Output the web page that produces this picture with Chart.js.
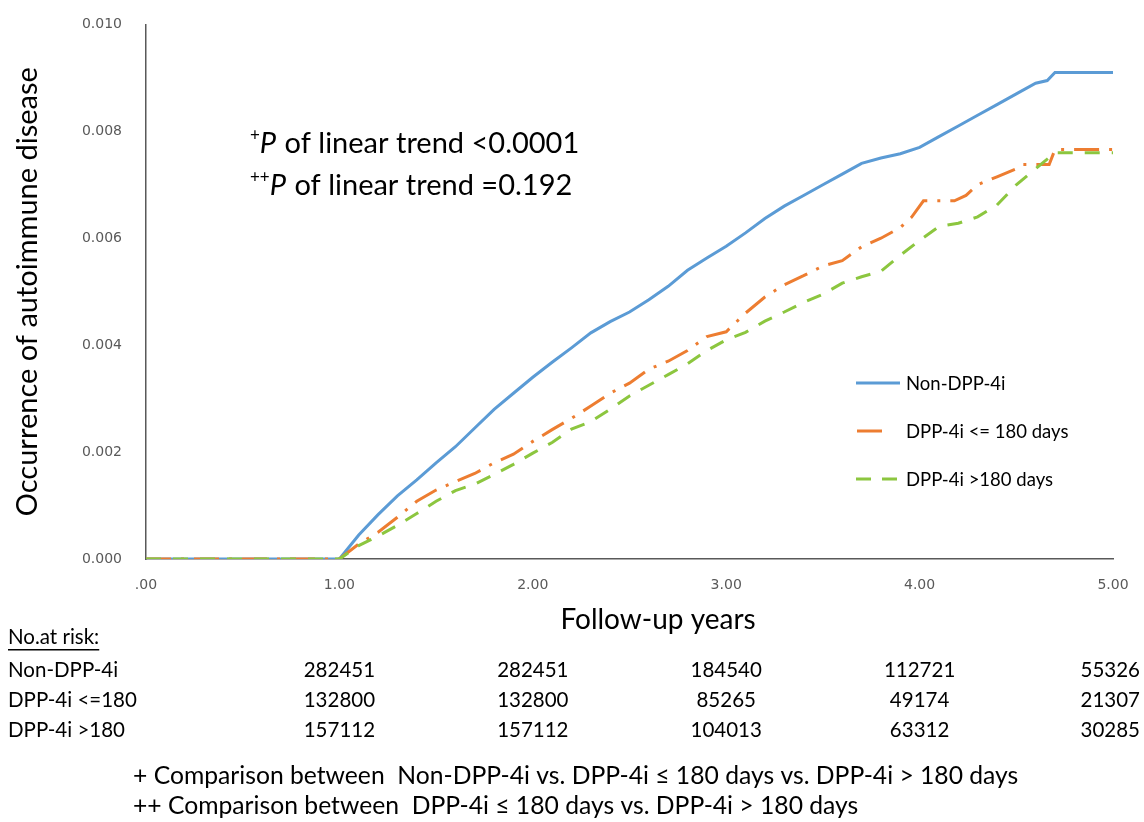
<!DOCTYPE html>
<html>
<head>
<meta charset="utf-8">
<script src="https://cdn.jsdelivr.net/npm/chart.js@4.4.1/dist/chart.umd.min.js"></script>
<style>
  html, body { margin: 0; padding: 0; background: #fff; }
  #chart { display: block; }
</style>
</head>
<body>
<canvas id="chart" width="1144" height="822"></canvas>
<script>
const TEXT_FONT = 'Lato, "Open Sans", sans-serif';
const TICK_FONT = '"DejaVu Sans", Verdana, sans-serif';

// Non-DPP-4i (blue)
const nonYears = [0, 1.0, 1.1, 1.2, 1.3, 1.4, 1.5, 1.6, 1.7, 1.8, 1.9, 2.0, 2.1, 2.2, 2.3, 2.4, 2.5, 2.6, 2.7, 2.8, 2.9,
  3.0, 3.1, 3.2, 3.3, 3.4, 3.5, 3.6, 3.7, 3.8, 3.9, 4.0, 4.1, 4.2, 4.3, 4.4, 4.5, 4.6, 4.66, 4.7, 5.0];
const nonRate = [0, 0, 0.00045, 0.00083, 0.00118, 0.00148, 0.0018, 0.0021, 0.00245, 0.0028, 0.0031, 0.0034, 0.00368, 0.00395, 0.00423, 0.00444, 0.00462, 0.00485, 0.0051, 0.0054, 0.00563,
  0.00585, 0.0061, 0.00637, 0.0066, 0.0068, 0.007, 0.0072, 0.0074, 0.0075, 0.00758, 0.0077, 0.0079, 0.0081, 0.0083, 0.0085, 0.0087, 0.0089, 0.00895, 0.0091, 0.0091];

// DPP-4i <= 180 days (orange)
const leYears = [0, 1.0, 1.1, 1.2, 1.3, 1.4, 1.5, 1.6, 1.7, 1.8, 1.9, 2.0, 2.1, 2.2, 2.3, 2.4, 2.5, 2.6, 2.7, 2.8, 2.9,
  3.0, 3.1, 3.2, 3.3, 3.4, 3.5, 3.6, 3.7, 3.8, 3.9, 3.96, 4.02, 4.18, 4.24, 4.3, 4.4, 4.5, 4.53, 4.67, 4.7, 5.0];
const leRate = [0, 0, 0.00028, 0.0005, 0.00078, 0.00108, 0.00129, 0.00145, 0.0016, 0.0018, 0.00196, 0.0022, 0.00242, 0.00263, 0.00286, 0.0031, 0.00329, 0.00355, 0.0037, 0.0039, 0.00416,
  0.00425, 0.0046, 0.0049, 0.00513, 0.0053, 0.00548, 0.00558, 0.00584, 0.006, 0.0062, 0.0064, 0.0067, 0.0067, 0.0068, 0.007, 0.00715, 0.0073, 0.00738, 0.00738, 0.00766, 0.00766];

// DPP-4i > 180 days (green)
const gtYears = [0, 1.0, 1.1, 1.2, 1.3, 1.4, 1.5, 1.6, 1.7, 1.8, 1.9, 2.0, 2.1, 2.2, 2.3, 2.4, 2.5, 2.6, 2.7, 2.8, 2.9,
  3.0, 3.1, 3.2, 3.3, 3.4, 3.5, 3.6, 3.7, 3.8, 3.9, 4.0, 4.1, 4.2, 4.3, 4.4, 4.5, 4.6, 4.7, 5.0];
const gtRate = [0, 0, 0.00025, 0.00043, 0.00063, 0.00085, 0.00108, 0.00128, 0.0014, 0.00158, 0.00177, 0.00198, 0.00218, 0.00243, 0.00257, 0.0028, 0.00305, 0.00325, 0.00345, 0.00365, 0.0039,
  0.0041, 0.00424, 0.00445, 0.00462, 0.0048, 0.00495, 0.00516, 0.00528, 0.00538, 0.00568, 0.00596, 0.00622, 0.00628, 0.0064, 0.00662, 0.007, 0.0073, 0.0076, 0.0076];

const seriesLabels = ["Non-DPP-4i", "DPP-4i <= 180 days", "DPP-4i >180 days"];

// number at risk table
const riskYears = [1, 2, 3, 4, 5];
const riskRowLabels = ["Non-DPP-4i", "DPP-4i <=180", "DPP-4i >180"];
const riskNon = [282451, 282451, 184540, 112721, 55326];
const riskLe180 = [132800, 132800, 85265, 49174, 21307];
const riskGt180 = [157112, 157112, 104013, 63312, 30285];

const trendLines = [["+", " of linear trend <0.0001"], ["++", " of linear trend =0.192"]];
const footnotes = [
  "+ Comparison between  Non-DPP-4i vs. DPP-4i \u2264 180 days vs. DPP-4i > 180 days",
  "++ Comparison between  DPP-4i \u2264 180 days vs. DPP-4i > 180 days"
];

const BLUE = "#5B9BD5", ORANGE = "#ED7D31", GREEN = "#8CC63F";

function toPoints(xs, ys) {
  return xs.map((x, i) => ({ x: x, y: ys[i] }));
}

// Legend, annotation, axis title and risk table
const extras = {
  id: "extras",
  afterDraw(chart) {
    const ctx = chart.ctx;
    const xs = chart.scales.x;
    ctx.save();
    ctx.fillStyle = "#000";
    ctx.textBaseline = "alphabetic";
    ctx.textAlign = "left";

    // P for trend
    trendLines.forEach((ln, i) => {
      let x = 250;
      const y = 153 + i * 42;
      ctx.font = "17px " + TEXT_FONT;
      ctx.fillText(ln[0], x, y - 12);
      x += ctx.measureText(ln[0]).width;
      ctx.font = "italic 29px " + TEXT_FONT;
      ctx.fillText("P", x, y);
      x += ctx.measureText("P").width + 1;
      ctx.font = "29px " + TEXT_FONT;
      ctx.fillText(ln[1], x, y);
    });

    // legend
    const styles = [
      { color: BLUE, dash: [], x0: 856, x1: 900 },
      { color: ORANGE, dash: [], x0: 857, x1: 882 },
      { color: GREEN, dash: [15, 11], x0: 856, x1: 898 }
    ];
    seriesLabels.forEach((lab, i) => {
      const y = 383 + i * 48;
      const s = styles[i];
      ctx.strokeStyle = s.color;
      ctx.lineWidth = 3;
      ctx.setLineDash(s.dash);
      ctx.beginPath();
      ctx.moveTo(s.x0, y);
      ctx.lineTo(s.x1, y);
      ctx.stroke();
      ctx.setLineDash([]);
      ctx.font = "18.5px " + TEXT_FONT;
      ctx.fillStyle = "#000";
      ctx.textBaseline = "middle";
      ctx.fillText(lab, 906, y + 1);
    });

    // x axis title
    ctx.textBaseline = "middle";
    ctx.textAlign = "center";
    ctx.font = "28px " + TEXT_FONT;
    ctx.fillText("Follow-up years", 658, 620);

    // number at risk
    ctx.textAlign = "left";
    ctx.font = "20.5px " + TEXT_FONT;
    ctx.fillText("No.at risk:", 8, 637);
    const w = ctx.measureText("No.at risk:").width;
    ctx.fillRect(8, 649, w, 1.5);

    const rows = [riskNon, riskLe180, riskGt180];
    rows.forEach((row, r) => {
      const y = 670 + r * 30;
      ctx.textAlign = "left";
      ctx.fillText(riskRowLabels[r], 8, y);
      ctx.textAlign = "center";
      row.forEach((v, c) => {
        const txt = String(v);
        const tw = ctx.measureText(txt).width;
        const cx = Math.min(xs.getPixelForValue(riskYears[c]), 1140 - tw / 2);
        ctx.fillText(txt, cx, y);
      });
    });

    // footnotes
    ctx.textAlign = "left";
    ctx.font = "24.7px " + TEXT_FONT;
    footnotes.forEach((t, i) => ctx.fillText(t, 133, 776 + i * 30));
    ctx.restore();
  }
};

new Chart(document.getElementById("chart"), {
  type: "line",
  data: {
    datasets: [
      {
        label: seriesLabels[0],
        data: toPoints(nonYears, nonRate),
        borderColor: BLUE,
        borderWidth: 3,
        order: 2
      },
      {
        label: seriesLabels[1],
        data: toPoints(leYears, leRate),
        borderColor: ORANGE,
        borderWidth: 3,
        borderDash: [25, 10, 3, 10],
        order: 1
      },
      {
        label: seriesLabels[2],
        data: toPoints(gtYears, gtRate),
        borderColor: GREEN,
        borderWidth: 3,
        borderDash: [15, 12],
        order: 0
      }
    ]
  },
  options: {
    responsive: false,
    animation: false,
    layout: { padding: { top: 24, right: 31, left: 0, bottom: 0 } },
    elements: { point: { radius: 0 }, line: { tension: 0, borderCapStyle: "butt" } },
    plugins: { legend: { display: false }, tooltip: { enabled: false } },
    scales: {
      x: {
        type: "linear",
        min: 0,
        max: 5,
        afterFit: s => { s.height = 263; },
        grid: { display: false },
        border: { display: true, color: "#595959", width: 1.5 },
        ticks: {
          stepSize: 1,
          padding: 10,
          color: "#595959",
          font: { family: TICK_FONT, size: 14 },
          callback: v => (v === 0 ? ".00" : v.toFixed(2))
        }
      },
      y: {
        min: 0,
        max: 0.01,
        afterFit: s => { s.width = 146; },
        grid: { display: false },
        border: { display: true, color: "#595959", width: 1.5 },
        ticks: {
          stepSize: 0.002,
          padding: 16,
          color: "#595959",
          font: { family: TICK_FONT, size: 14 },
          callback: v => v.toFixed(3)
        },
        title: {
          display: true,
          text: "Occurrence of autoimmune disease",
          color: "#000",
          font: { family: TEXT_FONT, size: 29 },
          padding: { top: 10 }
        }
      }
    }
  },
  plugins: [extras]
});
</script>
</body>
</html>
